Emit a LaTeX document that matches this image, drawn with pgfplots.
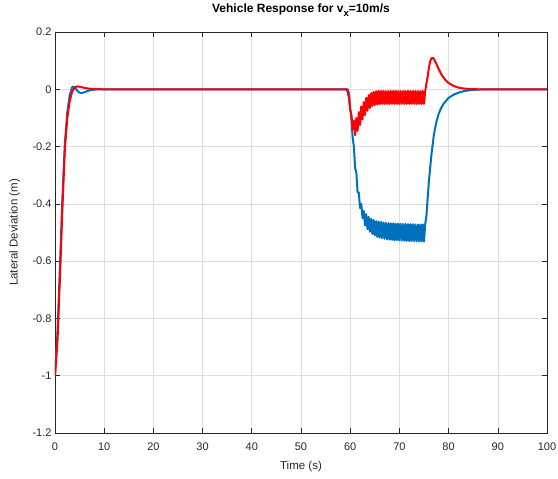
\documentclass[border=0pt]{standalone}
\usepackage{fontspec}
\setmainfont{Liberation Sans}
\usepackage{pgfplots}
\pgfplotsset{compat=1.18}
\definecolor{mblue}{rgb}{0,0.447,0.741}
\definecolor{mred}{rgb}{1,0,0}
\definecolor{gridgray}{gray}{0.87}
\begin{document}
\begin{tikzpicture}
\useasboundingbox (-55pt,-46pt) rectangle (503pt,433pt);
\begin{axis}[
  at={(0pt,0pt)}, anchor=south west,
  scale only axis, width=492pt, height=401pt,
  xmin=0, xmax=100, ymin=-1.2, ymax=0.2,
  xtick={0,10,...,100},
  ytick={-1.2,-1,-0.8,-0.6,-0.4,-0.2,0,0.2},
  yticklabels={-1.2,-1,-0.8,-0.6,-0.4,-0.2,0,0.2},
  xmajorgrids, ymajorgrids,
  grid style={gridgray, line width=0.6pt},
  axis line style={black!85, line width=0.6pt},
  tick style={black!85, line width=0.6pt},
  major tick length=5pt, tick align=inside,
  /pgf/number format/assume math mode=true,
  ticklabel style={font=\fontsize{11}{13}\selectfont, text=black!85},
  xticklabel style={yshift=-6pt},
  title={\textbf{Vehicle Response for v\raisebox{-3.5pt}{\fontsize{9.5}{10}\selectfont x}=10m/s}},
  title style={font=\fontsize{12}{14}\selectfont, at={(axis description cs:0.5,1)}, anchor=south, yshift=6pt},
  xlabel={Time (s)},
  xlabel style={font=\fontsize{11.5}{13}\selectfont, text=black!85, at={(axis description cs:0.5,0)}, anchor=north, yshift=-25pt},
  ylabel={Lateral Deviation (m)},
  ylabel style={font=\fontsize{11.5}{13}\selectfont, text=black!85, at={(axis description cs:-0.064,0.5)}, anchor=south},
]
% lateral deviation, controller 1
\addplot[mblue, line width=2pt, line join=round] coordinates {
(0,-1)(0.5,-0.85)(1,-0.62)(1.5,-0.38)(2,-0.19)(2.5,-0.08)(3,-0.02)(3.5,0.008)(4,0.008)(4.5,-0.005)(5,-0.012)(5.5,-0.013)(6,-0.01)(7,-0.004)(8,-0.001)(9,0)(59.5,0)
(59.75,-0.015)(60,-0.07)(60.25,-0.10)(60.5,-0.17)(60.75,-0.20)(61,-0.275)(61.25,-0.29)(61.5,-0.36)(61.75,-0.36)(62,-0.415)(62.25,-0.40)(62.5,-0.45)(62.75,-0.425)(63,-0.475)(63.25,-0.436)(63.5,-0.488)(63.75,-0.445)(64,-0.497)(64.25,-0.452)(64.5,-0.505)(64.75,-0.456)(65,-0.51)(65.25,-0.46)(65.5,-0.515)(65.75,-0.462)(66,-0.518)(66.25,-0.463)(66.5,-0.52)(66.75,-0.465)(67,-0.522)(67.25,-0.466)(67.5,-0.524)(67.75,-0.467)(68,-0.525)(68.25,-0.468)(68.5,-0.526)(68.75,-0.468)(69,-0.527)(69.25,-0.469)(69.5,-0.527)(69.75,-0.469)(70,-0.528)(70.25,-0.47)(70.5,-0.528)(70.75,-0.47)(71,-0.529)(71.25,-0.47)(71.5,-0.529)(71.75,-0.471)(72,-0.53)(72.25,-0.471)(72.5,-0.53)(72.75,-0.471)(73,-0.53)(73.25,-0.472)(73.5,-0.531)(73.75,-0.472)(74,-0.531)(74.25,-0.472)(74.5,-0.531)(74.75,-0.472)(75,-0.532)(75.25,-0.47)
(75.5,-0.44)(76,-0.32)(76.5,-0.23)(77,-0.16)(77.5,-0.115)(78,-0.085)(78.5,-0.065)(79,-0.05)(80,-0.03)(81,-0.019)(82,-0.012)(83,-0.007)(84,-0.004)(85,-0.002)(86,-0.001)(88,0)(100,0)
};
% lateral deviation, controller 2
\addplot[mred, line width=2pt, line join=round] coordinates {
(0,-1)(0.5,-0.88)(1,-0.66)(1.5,-0.42)(2,-0.21)(2.5,-0.1)(3,-0.04)(3.5,-0.008)(4,0.006)(4.5,0.01)(5,0.009)(6,0.005)(7,0.002)(8,0.0005)(10,0)(59.25,0)
(59.5,-0.01)(59.75,-0.03)(60,-0.07)(60.25,-0.09)(60.5,-0.14)(60.75,-0.11)(61,-0.16)(61.25,-0.10)(61.5,-0.145)(61.75,-0.08)(62,-0.125)(62.25,-0.06)(62.5,-0.105)(62.75,-0.045)(63,-0.09)(63.25,-0.03)(63.5,-0.075)(63.75,-0.02)(64,-0.065)(64.25,-0.013)(64.5,-0.058)(64.75,-0.009)(65,-0.055)(65.25,-0.007)(65.5,-0.053)(65.75,-0.006)(66,-0.052)(66.25,-0.006)(66.5,-0.051)(66.75,-0.006)(67,-0.051)(67.25,-0.006)(67.5,-0.051)(67.75,-0.006)(68,-0.051)(68.25,-0.006)(68.5,-0.051)(68.75,-0.006)(69,-0.051)(69.25,-0.006)(69.5,-0.051)(69.75,-0.006)(70,-0.051)(70.25,-0.006)(70.5,-0.051)(70.75,-0.006)(71,-0.051)(71.25,-0.006)(71.5,-0.051)(71.75,-0.006)(72,-0.051)(72.25,-0.006)(72.5,-0.051)(72.75,-0.006)(73,-0.051)(73.25,-0.006)(73.5,-0.051)(73.75,-0.006)(74,-0.051)(74.25,-0.006)(74.5,-0.051)(74.75,-0.006)(75,-0.051)(75.25,-0.006)
(75.5,0.02)(75.75,0.045)(76,0.075)(76.25,0.097)(76.5,0.108)(76.75,0.11)(77,0.106)(77.5,0.09)(78,0.07)(78.5,0.053)(79,0.04)(79.5,0.03)(80,0.022)(81,0.012)(82,0.006)(83,0.003)(84,0.001)(86,0)(100,0)
};
\end{axis}
\end{tikzpicture}
\end{document}
